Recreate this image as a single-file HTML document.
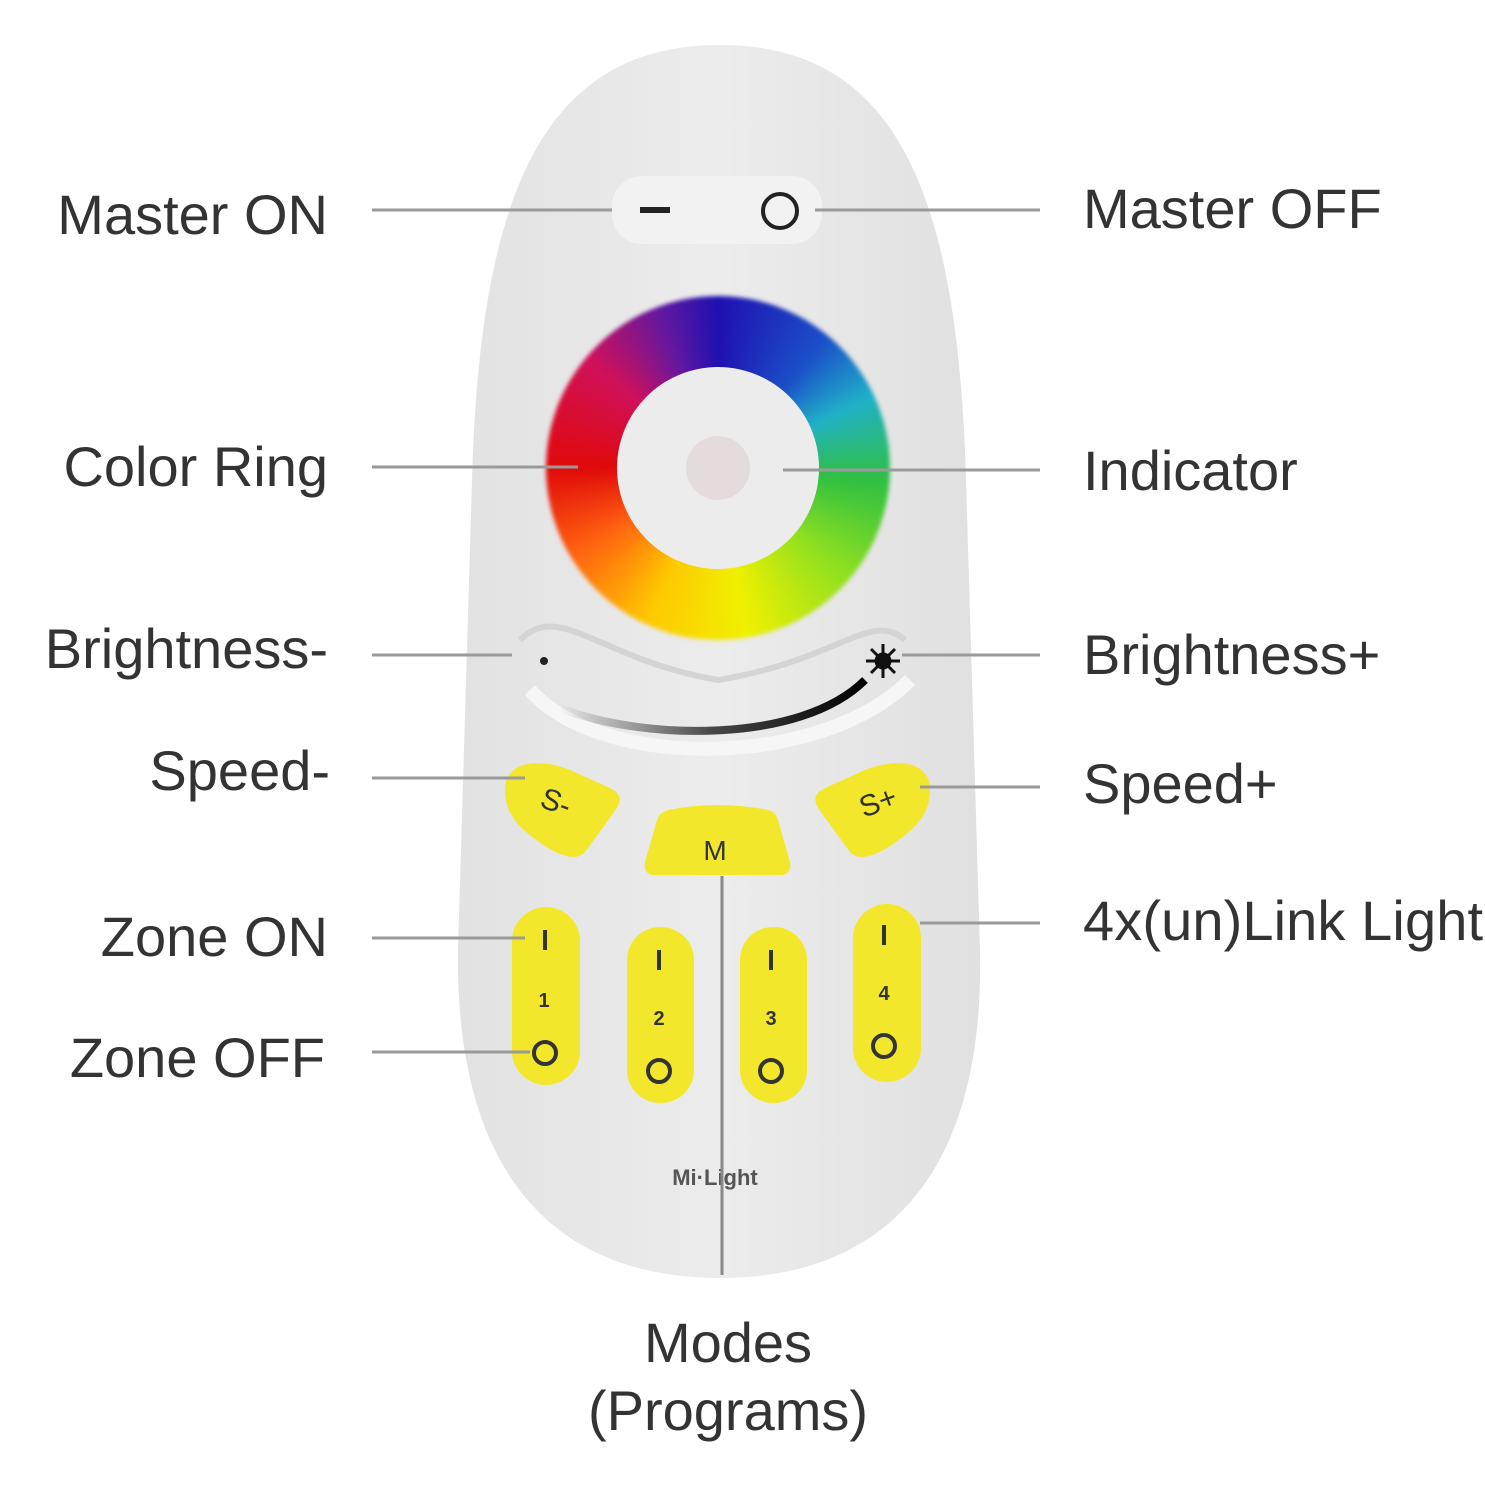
<!DOCTYPE html>
<html><head><style>
html,body{margin:0;padding:0;background:#fff;}
#wrap{position:relative;width:1485px;height:1485px;overflow:hidden;}
svg{position:absolute;left:0;top:0;}
#ring{position:absolute;left:546px;top:296px;width:344px;height:344px;border-radius:50%;
background:conic-gradient(from 0deg,#2010b0 0deg,#1a50c8 40deg,#20b0c8 65deg,#30c040 95deg,#90e020 130deg,#f0f000 170deg,#ffc800 205deg,#ff6010 240deg,#e00a0a 270deg,#d0105a 310deg,#6018a0 340deg,#2010b0 360deg);
filter:blur(2px);}
#inner{position:absolute;left:617px;top:367px;width:202px;height:202px;border-radius:50%;background:#ececec;}
#ind{position:absolute;left:686px;top:436px;width:64px;height:64px;border-radius:50%;background:#e4dcdc;}
text{font-family:"Liberation Sans",sans-serif;fill:#333;}
</style></head><body><div id="wrap">
<svg width="1485" height="1485">
<defs>
<linearGradient id="bg" x1="0" x2="1"><stop offset="0" stop-color="#e2e2e2"/><stop offset="0.5" stop-color="#ececec"/><stop offset="1" stop-color="#e0e0e0"/></linearGradient>
</defs>
<path d="M720,45 C540,45 480,200 472,480 L458,950 C455,1180 560,1278 720,1278 C880,1278 985,1180 980,950 L966,480 C958,200 900,45 720,45 Z" fill="url(#bg)"/>
<rect x="612" y="176" width="210" height="68" rx="30" fill="#f2f2f2"/>
</svg>
<div id="ring"></div><div id="inner"></div><div id="ind"></div>
<svg width="1485" height="1485">
<defs>
<linearGradient id="bar" x1="0" x2="1"><stop offset="0" stop-color="#000" stop-opacity="0"/><stop offset="0.5" stop-color="#000" stop-opacity="0.7"/><stop offset="1" stop-color="#000"/></linearGradient>
</defs>
<path d="M520,640 C560,600 600,660 718,680 C840,660 870,610 905,640" fill="none" stroke="#d4d4d4" stroke-width="6"/>
<path d="M530,690 C600,770 820,770 910,680" fill="none" stroke="#f6f6f6" stroke-width="14"/>
<path d="M560,708 C640,740 800,745 865,680" fill="none" stroke="url(#bar)" stroke-width="8"/>
<circle cx="544" cy="661" r="4" fill="#222"/>
<g stroke="#111" stroke-width="3"><circle cx="883" cy="661" r="7" fill="#111"/>
<line x1="883" y1="644" x2="883" y2="678"/><line x1="866" y1="661" x2="900" y2="661"/><line x1="871" y1="649" x2="895" y2="673"/><line x1="895" y1="649" x2="871" y2="673"/></g>
<rect x="640" y="207" width="30" height="6" fill="#222"/>
<circle cx="780" cy="211" r="17" fill="none" stroke="#222" stroke-width="4"/>
<g fill="#f3e72c">
<path d="M505,790 C505,760 540,758 570,770 L610,788 C625,795 620,805 612,815 L585,852 C578,860 565,858 548,848 C520,830 505,815 505,790Z"/>
<path d="M930,790 C930,760 895,758 865,770 L825,788 C810,795 815,805 823,815 L850,852 C857,860 870,858 887,848 C915,830 930,815 930,790Z"/>
<path d="M668,810 Q718,800 768,810 Q776,812 778,820 L790,862 Q792,875 780,875 L655,875 Q643,875 645,862 L657,820 Q660,812 668,810Z"/>
<rect x="512" y="907" width="68" height="178" rx="34"/>
<rect x="627" y="927" width="67" height="176" rx="33"/>
<rect x="740" y="927" width="67" height="176" rx="33"/>
<rect x="853" y="904" width="68" height="178" rx="34"/>
</g>
<g font-family="Liberation Sans,sans-serif" fill="#333" font-size="30" text-anchor="middle">
<text x="556" y="812" transform="rotate(20 556 802)">S-</text>
<text x="878" y="812" transform="rotate(-20 878 802)">S+</text>
<text x="715" y="860" font-size="28">M</text>
</g>
<g stroke="#333" stroke-width="4" fill="none">
<line x1="545" y1="930" x2="545" y2="950"/><line x1="659" y1="950" x2="659" y2="970"/><line x1="771" y1="950" x2="771" y2="970"/><line x1="884" y1="925" x2="884" y2="945"/>
<circle cx="545" cy="1053" r="11"/><circle cx="659" cy="1071" r="11"/><circle cx="771" cy="1071" r="11"/><circle cx="884" cy="1046" r="11"/>
</g>
<g font-family="Liberation Sans,sans-serif" fill="#333" font-size="20" font-weight="bold" text-anchor="middle">
<text x="544" y="1007">1</text><text x="659" y="1025">2</text><text x="771" y="1025">3</text><text x="884" y="1000">4</text>
</g>
<text x="715" y="1185" text-anchor="middle" font-family="Liberation Serif,serif" font-weight="bold" font-size="22" style="fill:#555">Mi·Light</text>
<g stroke="#9a9a9a" stroke-width="3">
<line x1="372" y1="210" x2="612" y2="210"/><line x1="815" y1="210" x2="1040" y2="210"/>
<line x1="372" y1="467" x2="578" y2="467"/><line x1="783" y1="470" x2="1040" y2="470"/>
<line x1="372" y1="655" x2="512" y2="655"/><line x1="902" y1="655" x2="1040" y2="655"/>
<line x1="372" y1="778" x2="525" y2="778"/><line x1="920" y1="787" x2="1040" y2="787"/>
<line x1="920" y1="923" x2="1040" y2="923"/>
<line x1="372" y1="938" x2="525" y2="938"/><line x1="372" y1="1052" x2="530" y2="1052"/>
<line x1="722" y1="876" x2="722" y2="1275" stroke="#888"/>
</g>
<g font-size="56">
<text x="328" y="234" text-anchor="end">Master ON</text>
<text x="328" y="486" text-anchor="end">Color Ring</text>
<text x="328" y="668" text-anchor="end">Brightness-</text>
<text x="330" y="790" text-anchor="end">Speed-</text>
<text x="328" y="956" text-anchor="end">Zone ON</text>
<text x="325" y="1077" text-anchor="end">Zone OFF</text>
<text x="1083" y="228">Master OFF</text>
<text x="1083" y="490">Indicator</text>
<text x="1083" y="674">Brightness+</text>
<text x="1083" y="803">Speed+</text>
<text x="1083" y="940" textLength="400">4x(un)Link Light</text>
<text x="728" y="1362" text-anchor="middle">Modes</text>
<text x="728" y="1430" text-anchor="middle">(Programs)</text>
</g>
</svg>
</div></body></html>
